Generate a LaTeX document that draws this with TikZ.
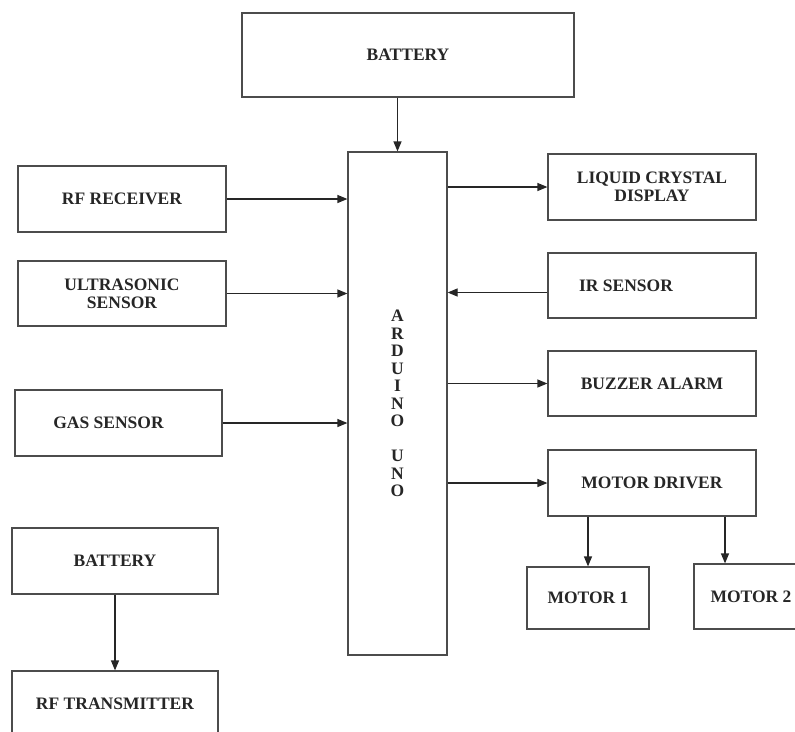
\documentclass[tikz,border=0pt]{standalone}
\usepackage{fontspec}
\setmainfont{Liberation Serif}
\usetikzlibrary{arrows.meta}

\begin{document}
\begin{tikzpicture}[x=1pt, y=-1pt,
    blk/.style={draw=black!70, line width=1.2pt, rectangle, inner sep=0pt,
        font=\fontsize{17.5}{18}\selectfont\bfseries, text=black!85},
    arr/.style={-{Triangle[length=10pt,width=8pt]}, line width=1.2pt, draw=black!85}]
            \clip (0,0) rectangle (795,731);

            \node[blk, minimum width=332pt, minimum height=84pt] (bat) at (408,55) {BATTERY};
            \node[blk, minimum width=99pt, minimum height=503pt, align=center] (ard) at (397.5,403.5)
                {A\\[-0.5pt]R\\[-0.5pt]D\\[-0.5pt]U\\[-0.5pt]I\\[-0.5pt]N\\[-0.5pt]O\\[17pt]U\\[-0.5pt]N\\[-0.5pt]O};

            \node[blk, minimum width=208pt, minimum height=66pt] (rfr) at (122,199) {RF RECEIVER};
            \node[blk, minimum width=208pt, minimum height=65pt, align=center] (ultra) at (122,293.5) {ULTRASONIC\\SENSOR};
            \node[blk, minimum width=207pt, minimum height=66pt] (gas) at (118.5,423) {GAS SENSOR\hspace*{20pt}};

            \node[blk, minimum width=208pt, minimum height=66pt, align=center] (lcd) at (652,187) {LIQUID CRYSTAL\\DISPLAY};
            \node[blk, minimum width=208pt, minimum height=65pt] (ir) at (652,285.5) {IR SENSOR\hspace*{52pt}};
            \node[blk, minimum width=208pt, minimum height=65pt] (buzz) at (652,383.5) {BUZZER ALARM};
            \node[blk, minimum width=208pt, minimum height=66pt] (mdrv) at (652,483) {MOTOR DRIVER};

            \node[blk, minimum width=122pt, minimum height=62pt] (m1) at (588,598) {MOTOR 1};
            \node[blk, minimum width=114pt, minimum height=65pt] (m2) at (751,596.5) {MOTOR 2};

            \node[blk, minimum width=206pt, minimum height=66pt] (bat2) at (115,561) {BATTERY};
            \node[blk, minimum width=206pt, minimum height=66pt] (rft) at (115,704) {RF TRANSMITTER};

            \draw[arr] (ard.north |- bat.south) -- (ard.north);

            \draw[arr] (rfr.east) -- (rfr.east -| ard.west);
            \draw[arr] (ultra.east) -- (ultra.east -| ard.west);
            \draw[arr] (gas.east) -- (gas.east -| ard.west);

            \draw[arr] (lcd.west -| ard.east) -- (lcd.west);
            \draw[arr] ([yshift=-7pt]ir.west) -- ([yshift=-7pt]ir.west -| ard.east);
            \draw[arr] (buzz.west -| ard.east) -- (buzz.west);
            \draw[arr] (mdrv.west -| ard.east) -- (mdrv.west);

            \draw[arr] (m1.north |- mdrv.south) -- (m1.north);
            \draw[arr] ([xshift=73pt]mdrv.south) -- ([xshift=73pt]mdrv.south |- m2.north);

            \draw[arr] (bat2.south) -- (rft.north);
        \end{tikzpicture}
\end{document}
